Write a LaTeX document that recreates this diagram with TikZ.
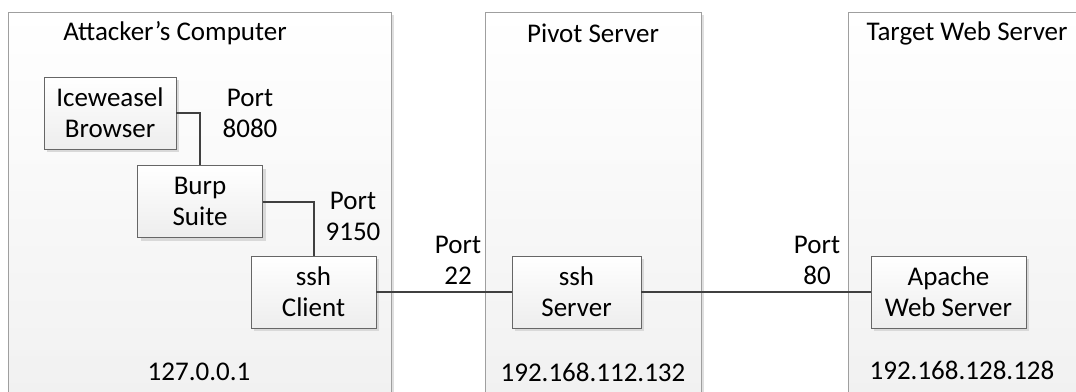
\documentclass[tikz,border=0pt]{standalone}
\usepackage{fontspec}
\setmainfont{Carlito}
\usetikzlibrary{shadows}

\begin{document}
\begin{tikzpicture}
        [x=1pt, y=-1pt,
        font=\fontsize{27}{31}\selectfont,
        host/.style={rectangle, draw=gray!75, anchor=north west, inner sep=0pt,
           top color=white, bottom color=gray!12, minimum height=420pt,
           drop shadow={shadow xshift=3pt, shadow yshift=-3pt, fill=gray!25, opacity=1}},
        proc/.style={rectangle, draw=gray!80!black, align=center, inner sep=0pt,
           top color=white, bottom color=gray!14, minimum height=72pt,
           drop shadow={shadow xshift=3pt, shadow yshift=-3pt, fill=gray!30, opacity=1}},
        lbl/.style={align=center, inner sep=0pt},
        link/.style={draw=black!75, line width=2pt}]
        \useasboundingbox (0,0) rectangle (1076,391);
        \begin{scope}
        \clip (0,0) rectangle (1076,391);
        % hosts
        \node (attacker) at (8,12) [host, minimum width=383pt] {};
        \node (pivot) at (485,12) [host, minimum width=216pt] {};
        \node (target) at (848,12) [host, minimum width=260pt] {};
        \end{scope}
        \node (attackerT) at (175,33) [lbl] {Attacker’s Computer};
        \node (pivotT) at (593,33) [lbl] {Pivot Server};
        \node (targetT) at (967,33) [lbl] {Target Web Server};
        \node (attackerIP) at (199,372) [lbl] {127.0.0.1};
        \node (pivotIP) at (593,372) [lbl] {192.168.112.132};
        \node (targetIP) at (962,370) [lbl] {192.168.128.128};
        % processes
        \node (ice) at (110,113) [proc, minimum width=132pt] {Iceweasel\\Browser};
        \node (burp) at (200,201.5) [proc, minimum width=125pt] {Burp\\Suite};
        \node (sshC) at (313.5,292) [proc, minimum width=125pt] {ssh\\Client};
        \node (sshS) at (576.5,292) [proc, minimum width=129pt] {ssh\\Server};
        \node (apache) at (948.5,292) [proc, minimum width=155pt] {Apache\\Web Server};
        % ports
        \node (p8080) at (250,113) [lbl] {Port\\8080};
        \node (p9150) at (353,216) [lbl] {Port\\9150};
        \node (p22) at (458,260) [lbl] {Port\\22};
        \node (p80) at (817,260) [lbl] {Port\\80};
        % links
        \draw[link] (ice.east) -| (burp.north);
        \draw[link] (burp.east) -| (sshC.north);
        \draw[link] (sshC.east) -- (sshS.west);
        \draw[link] (sshS.east) -- (apache.west);
\end{tikzpicture}
\end{document}
